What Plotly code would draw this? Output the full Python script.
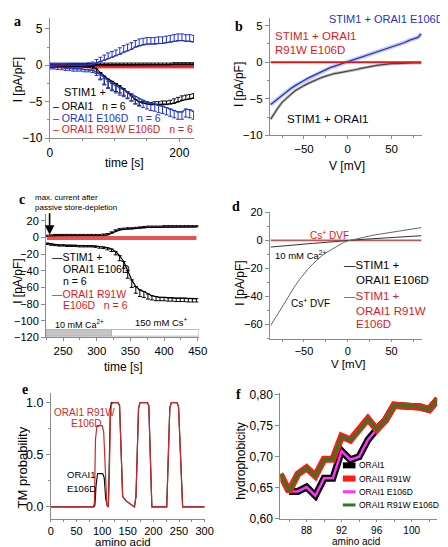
import plotly.graph_objects as go

W, H = 448, 547
FONT = "Liberation Sans"
SERIF = "Liberation Serif"
AX = "#8c8c8c"
BLACK, BLUE, RED = "#000000", "#2233cc", "#e01818"

# ---------------- panel a : current vs time ----------------
a_time = [0, 6, 12, 18, 24, 30, 36, 42, 48, 54, 60, 66, 72, 78, 84, 90, 96, 102, 108, 114,
          120, 126, 132, 138, 144, 150, 156, 162, 168, 174, 180, 186, 192, 198, 204, 210, 216, 222]
a_orai1_in = [-0.1, -0.1, -0.1, -0.05, -0.05, 0, 0, 0, 0, -0.05, -0.1, -0.2, -0.5, -1.0, -1.5, -1.9, -2.2, -2.5, -2.8, -3.2,
              -3.7, -4.2, -4.7, -5.0, -5.2, -5.3, -5.4, -5.4, -5.4, -5.4, -5.4, -5.3, -5.2, -5.0, -4.8, -4.7, -4.6, -4.5]
a_orai1_in_err_dn = [0.2, 0.2, 0.2, 0.2, 0.2, 0.2, 0.2, 0.2, 0.2, 0.2, 0.2, 0.3, 0.6, 0.9, 1.1, 1.2, 1.2, 1.1, 1.0, 0.9,
                     0.8, 0.7, 0.6, 0.5, 0, 0, 0, 0, 0, 0, 0, 0, 0, 0, 0, 0, 0, 0]
a_orai1_in_err_up = [0, 0, 0, 0, 0, 0, 0, 0, 0, 0, 0, 0, 0, 0, 0, 0, 0, 0, 0, 0,
                     0, 0, 0, 0, 0.2, 0.3, 0.3, 0.4, 0.4, 0.5, 0.5, 0.5, 0.6, 0.6, 0.6, 0.6, 0.6, 0.6]
a_orai1_out = [0, 0, 0, 0, 0, 0.05, 0.05, 0.05, 0.05, 0.05, 0.05, 0.05, 0.1, 0.1, 0.1, 0.1, 0.1, 0.1, 0.1, 0.1,
               0.1, 0.1, 0.1, 0.1, 0.1, 0.1, 0.1, 0.1, 0.1, 0.1, 0.1, 0.1, 0.15, 0.15, 0.15, 0.15, 0.15, 0.15]
a_orai1_out_err = [0.2, 0.2, 0.2, 0.2, 0.2, 0.2, 0.2, 0.2, 0.2, 0.2, 0.2, 0.2, 0.2, 0.2, 0.2, 0.2, 0.2, 0.2, 0.2, 0.2,
                   0.2, 0.2, 0.2, 0.2, 0.2, 0.2, 0.2, 0.2, 0.2, 0.2, 0.2, 0.2, 0.2, 0.2, 0.2, 0.2, 0.2, 0.2]
a_e106d_in = [-0.2, -0.2, -0.3, -0.3, -0.4, -0.4, -0.5, -0.5, -0.5, -0.6, -0.6, -0.7, -0.9, -1.3, -1.8, -2.2, -2.5, -2.8, -3.1, -3.3,
              -3.6, -3.9, -4.3, -4.6, -4.8, -5.0, -5.2, -5.3, -5.5, -5.6, -5.8, -6.0, -6.2, -6.4, -6.4, -6.0, -6.1, -6.3]
a_e106d_in_err = [0.3, 0.3, 0.3, 0.3, 0.3, 0.3, 0.3, 0.3, 0.3, 0.3, 0.3, 0.3, 0.5, 0.7, 0.9, 1.0, 1.0, 1.0, 1.0, 1.0,
                  1.0, 1.0, 1.0, 1.0, 1.0, 1.0, 1.0, 1.0, 1.0, 1.0, 1.0, 1.0, 1.0, 1.0, 1.0, 1.1, 1.1, 1.1]
a_e106d_out = [0, 0, 0, 0, 0, 0, 0, 0, 0, 0, 0.05, 0.15, 0.3, 0.5, 0.7, 0.9, 1.1, 1.3, 1.5, 1.8,
               2.0, 2.2, 2.5, 2.7, 2.8, 2.9, 2.9, 2.9, 3.0, 3.0, 3.1, 3.2, 3.3, 3.4, 3.4, 3.3, 3.3, 3.2]
a_e106d_out_err = [0.3, 0.3, 0.3, 0.3, 0.3, 0.3, 0.3, 0.3, 0.3, 0.3, 0.3, 0.3, 0.5, 0.6, 0.7, 0.8, 0.8, 0.8, 0.9, 0.9,
                   0.9, 0.9, 0.9, 0.9, 0.9, 0.9, 0.9, 0.9, 0.9, 0.9, 0.9, 0.9, 0.9, 0.9, 0.9, 0.9, 0.9, 0.9]
a_r91w_out = [-0.05, -0.05, -0.05, -0.05, -0.05, -0.05, -0.05, -0.05, -0.05, -0.05, -0.05, -0.05, -0.05, -0.05, -0.05, -0.05, -0.05, -0.05, -0.05, -0.05,
              -0.05, -0.05, -0.05, -0.05, -0.05, -0.05, -0.05, -0.05, -0.05, -0.05, -0.05, -0.05, -0.05, -0.05, -0.05, -0.05, -0.05, -0.05]
a_r91w_in = [-0.2, -0.2, -0.2, -0.2, -0.2, -0.2, -0.2, -0.2, -0.2, -0.2, -0.2, -0.2, -0.2, -0.2, -0.2, -0.2, -0.2, -0.2, -0.2, -0.2,
             -0.2, -0.2, -0.2, -0.2, -0.2, -0.2, -0.2, -0.2, -0.2, -0.2, -0.2, -0.2, -0.2, -0.2, -0.2, -0.2, -0.2, -0.2]
a_r91w_err = [0.15, 0.15, 0.15, 0.15, 0.15, 0.15, 0.15, 0.15, 0.15, 0.15, 0.15, 0.15, 0.15, 0.15, 0.15, 0.15, 0.15, 0.15, 0.15, 0.15,
              0.15, 0.15, 0.15, 0.15, 0.15, 0.15, 0.15, 0.15, 0.15, 0.15, 0.15, 0.15, 0.15, 0.15, 0.15, 0.15, 0.15, 0.15]

# ---------------- panel b : I/V ----------------
b_volt = [-88, -85, -80, -75, -70, -65, -60, -55, -50, -45, -40, -35, -30, -25, -20, -15, -10, -5, 0, 5,
          10, 15, 20, 25, 30, 35, 40, 45, 50, 55, 60, 65, 70, 75, 80, 84]
b_e106d = [-5.8, -5.5, -5.0, -4.5, -4.0, -3.6, -3.2, -2.9, -2.5, -2.15, -1.85, -1.55, -1.25, -1.0, -0.75, -0.55, -0.35, -0.15, 0.0, 0.2,
           0.4, 0.6, 0.8, 1.0, 1.2, 1.4, 1.6, 1.8, 2.0, 2.2, 2.45, 2.7, 3.0, 3.2, 3.4, 3.9]
b_orai1 = [-7.8, -7.2, -6.3, -5.5, -4.9, -4.4, -3.9, -3.5, -3.2, -2.9, -2.6, -2.35, -2.1, -1.9, -1.7, -1.55, -1.45, -1.35, -1.3, -1.15,
           -1.0, -0.85, -0.7, -0.6, -0.5, -0.4, -0.3, -0.25, -0.2, -0.2, -0.15, -0.15, -0.1, -0.1, -0.1, -0.1]
b_r91w_volt = [-88, 84]
b_r91w = [0.0, 0.0]

# ---------------- panel c : current vs time (Ca then Cs) ----------------
c_time = [226, 232, 238, 244, 250, 256, 262, 268, 274, 280, 286, 292, 298, 304, 310, 316, 322, 328, 334, 340,
          346, 352, 358, 364, 370, 376, 382, 388, 394, 400, 406, 412, 418, 424, 430, 436, 442, 448]
c_e106d_in = [-7, -8, -8.5, -9, -9, -9.5, -9.5, -9.5, -10, -10, -10, -10, -10.5, -11, -11.5, -12.5, -14, -17, -22, -29,
              -40, -51, -59, -63, -65, -68, -70, -71, -72, -72, -72.5, -72.5, -73, -73, -73, -73.5, -73.5, -73.5]
c_e106d_in_err = [1.5, 1.5, 1.5, 1.5, 1.5, 1.5, 1.5, 1.5, 1.5, 1.5, 1.5, 1.5, 1.5, 2, 2, 2.5, 3, 4, 6, 8,
                  9, 9, 8, 8, 7, 6, 5, 5, 4, 4, 4, 4, 4, 4, 4, 4, 4, 4]
c_e106d_out = [1, 1.5, 2, 2, 2, 2, 2, 2, 2, 2, 2, 2, 2, 2, 2.5, 3, 5, 7.5, 9, 9.5,
               10, 10, 10.5, 11, 11.5, 12, 12, 12, 12, 12.5, 12.5, 12.5, 12.5, 12.5, 12.5, 12.5, 12.5, 12.5]
c_e106d_out_err = [1.5, 1.5, 1.5, 1.5, 1.5, 1.5, 1.5, 1.5, 1.5, 1.5, 1.5, 1.5, 1.5, 1.5, 1.5, 1.5, 1.5, 1.5, 1.5, 1.5,
                   1.5, 1.5, 1.5, 1.5, 1.5, 1.5, 1.5, 1.5, 1.5, 1.5, 1.5, 1.5, 1.5, 1.5, 1.5, 1.5, 1.5, 1.5]
c_r91w_out = [0.5, 0.5, 0.5, 0.5, 0.5, 0.5, 0.5, 0.5, 0.5, 0.5, 0.5, 0.5, 0.5, 0.5, 0.5, 0.5, 0.5, 0.5, 0.5, 0.5,
              0.5, 0.5, 0.5, 0.5, 0.5, 0.5, 0.5, 0.5, 0.5, 0.5, 0.5, 0.5, 0.5, 0.5, 0.5, 0.5, 0.5, 0.5]
c_r91w_in = [-2, -2, -2, -2, -2, -2, -2, -2, -2, -2, -2, -2, -2, -2, -2, -2, -2, -2, -2, -2,
             -2, -2, -2, -2, -2, -2, -2, -2, -2, -2, -2, -2, -2, -2, -2, -2, -2, -2]
c_solution_bounds = [224.7, 322, 451.6]   # 10 mM Ca2+ | 150 mM Cs+
c_bar_y = [-118.5, -110.5]

# ---------------- panel d : I/V Ca vs Cs DVF ----------------
d_volt = b_volt
d_cs_dvf = [-61, -58, -52, -47, -43, -37.5, -32.5, -28, -24, -20.3, -17, -14, -11.3, -9, -7, -5, -3.2, -1.6, -0.4, 0.4,
            1.1, 1.7, 2.4, 3.1, 3.8, 4.3, 4.8, 5.2, 5.6, 6.1, 6.6, 7.1, 7.6, 8.1, 8.6, 9.1]
d_ca = [-4.8, -4.6, -4.3, -4.05, -3.8, -3.5, -3.25, -3.0, -2.7, -2.45, -2.2, -1.9, -1.65, -1.4, -1.1, -0.85, -0.6, -0.35, -0.1, 0.15,
        0.4, 0.6, 0.8, 1.0, 1.2, 1.4, 1.6, 1.8, 2.0, 2.2, 2.4, 2.6, 2.8, 3.0, 3.15, 3.3]
d_r91w_volt = [-88, 84]
d_r91w = [0.0, 0.0]

# ---------------- panel e : TM probability ----------------
e_aa_e106d = [0, 84, 86, 88, 91, 101, 104, 107, 110, 112, 114, 116, 118, 121, 131, 134, 137, 140, 146, 154,
              163, 166, 168, 171, 174, 188, 191, 194, 197, 226, 229, 232, 235, 246, 249, 253, 257, 300]
e_e106d = [0, 0, 0.02, 0.2, 0.32, 0.32, 0.28, 0.08, 0.01, 0, 0.45, 0.95, 1.0, 1.0, 1.0, 0.97, 0.6, 0.1, 0.06, 0.03,
           0, 0.1, 0.5, 0.95, 1.0, 1.0, 0.97, 0.5, 0, 0, 0.5, 0.95, 1.0, 1.0, 0.96, 0.5, 0, 0]
e_aa_r91w = [0, 83, 85, 87, 90, 100, 103, 106, 109, 112, 114, 116, 118, 121, 131, 134, 137, 140, 146, 154,
             163, 166, 168, 171, 174, 188, 191, 194, 197, 226, 229, 232, 235, 246, 249, 253, 257, 300]
e_r91w = [0, 0, 0.05, 0.65, 0.78, 0.78, 0.72, 0.35, 0.03, 0, 0.3, 0.85, 0.98, 1.0, 1.0, 0.97, 0.6, 0.1, 0.06, 0.03,
          0, 0.1, 0.5, 0.95, 1.0, 1.0, 0.97, 0.5, 0, 0, 0.5, 0.95, 1.0, 1.0, 0.96, 0.5, 0, 0]

# ---------------- panel f : hydrophobicity ----------------
f_aa_a = [86, 87, 88, 89, 90, 91, 92, 93, 94, 95, 96, 97, 98, 99, 100, 101, 102, 103]
f_orai1 = [0.644, 0.644, 0.651, 0.637, 0.665, 0.665, 0.709, 0.695, 0.700, 0.727, 0.744, 0.759, 0.783, 0.783, 0.781, 0.780, 0.776, 0.793]
f_e106d = [0.644, 0.644, 0.651, 0.637, 0.665, 0.665, 0.709, 0.695, 0.700, 0.727, 0.744, 0.759, 0.783, 0.783, 0.781, 0.780, 0.776, 0.793]
f_aa_b = [85, 86, 87, 88, 89, 90, 91, 92, 93, 94, 95, 96, 97, 98, 99, 100, 101, 102, 103]
f_r91w = [0.672, 0.644, 0.672, 0.682, 0.669, 0.696, 0.696, 0.733, 0.727, 0.742, 0.761, 0.744, 0.759, 0.783, 0.783, 0.781, 0.780, 0.776, 0.793]
f_r91w_e106d = [0.672, 0.644, 0.672, 0.682, 0.669, 0.696, 0.696, 0.733, 0.727, 0.742, 0.761, 0.744, 0.759, 0.783, 0.783, 0.781, 0.780, 0.776, 0.793]
f_names = ["ORAI1", "ORAI1 R91W", "ORAI1 E106D", "ORAI1 R91W E106D"]
f_colors = ["#000000", "#ff1a1a", "#ff33ff", "#2f7a1c"]
f_widths = [7, 7, 2.5, 3]
f_ytick = [0.60, 0.65, 0.70, 0.75, 0.80]
f_yticktext = ["0,60", "0,65", "0,70", "0,75", "0,80"]

fig = go.Figure()


def add_line(x, y, n, color, width=1.2, up=None, dn=None, opacity=1.0):
    tr = go.Scatter(x=x, y=y, mode="lines", line=dict(color=color, width=width),
                    xaxis="x" + ("" if n == 1 else str(n)), yaxis="y" + ("" if n == 1 else str(n)),
                    showlegend=False, hoverinfo="skip", opacity=opacity)
    if up is not None or dn is not None:
        tr.error_y = dict(type="data", symmetric=False,
                          array=up if up is not None else [0] * len(y),
                          arrayminus=dn if dn is not None else [0] * len(y),
                          color=color, thickness=1, width=2)
    fig.add_trace(tr)


# panel a
add_line(a_time, a_r91w_out, 1, RED, 1.2, a_r91w_err, a_r91w_err)
add_line(a_time, a_r91w_in, 1, RED, 1.2, a_r91w_err, a_r91w_err)
add_line(a_time, a_orai1_out, 1, BLACK, 1.2, a_orai1_out_err, None)
add_line(a_time, a_orai1_in, 1, BLACK, 1.2, a_orai1_in_err_up, a_orai1_in_err_dn)
add_line(a_time, a_e106d_out, 1, BLUE, 1.2, a_e106d_out_err, None)
add_line(a_time, a_e106d_in, 1, BLUE, 1.2, None, a_e106d_in_err)

# panel b
add_line(b_volt, b_orai1, 2, "rgba(0,0,0,0.25)", 3)
add_line(b_volt, b_orai1, 2, "#444444", 1.2)
add_line(b_volt, b_e106d, 2, "rgba(80,100,230,0.35)", 4)
add_line(b_volt, b_e106d, 2, BLUE, 1.3)
add_line(b_r91w_volt, b_r91w, 2, RED, 2)

# panel c
add_line(c_time, c_e106d_out, 3, BLACK, 1.2, c_e106d_out_err, None)
add_line(c_time, c_e106d_in, 3, BLACK, 1.2, None, c_e106d_in_err)
add_line(c_time, c_r91w_out, 3, RED, 1.5)
add_line(c_time, c_r91w_in, 3, RED, 1.5)

# panel d
add_line(d_r91w_volt, d_r91w, 4, "#c05a55", 1.8)
add_line(d_volt, d_ca, 4, "#333333", 1)
add_line(d_volt, d_cs_dvf, 4, "#666666", 1)

# panel e
add_line(e_aa_e106d, e_e106d, 5, "#111111", 1.2)
add_line(e_aa_r91w, e_r91w, 5, "#cc2a2a", 1.2)

# panel f
for xs, ys, i in [(f_aa_a, f_orai1, 0), (f_aa_a, f_e106d, 2), (f_aa_b, f_r91w, 1), (f_aa_b, f_r91w_e106d, 3)]:
    add_line(xs, ys, 6, f_colors[i], f_widths[i])


def axis(px, rng, anchor, dtick=None, tick0=0, minor=None, size=11, vertical=False, ticklen=4, **kw):
    if vertical:
        dom = [1 - px[1] / H, 1 - px[0] / H]
    else:
        dom = [px[0] / W, px[1] / W]
    d = dict(domain=dom, range=rng, anchor=anchor, showline=True, linecolor=AX, linewidth=1,
             ticks="outside", ticklen=ticklen, tickwidth=1, tickcolor=AX,
             tickfont=dict(size=size, color="black", family=FONT),
             showgrid=False, zeroline=False, fixedrange=True)
    if dtick is not None:
        d["dtick"] = dtick
        d["tick0"] = tick0
    if minor is not None:
        d["minor"] = dict(dtick=minor, tick0=tick0, ticks="outside", ticklen=2, tickcolor=AX, showgrid=False)
    d.update(kw)
    return d


layout = dict(
    width=W, height=H, margin=dict(l=0, r=0, t=0, b=0),
    paper_bgcolor="white", plot_bgcolor="white", showlegend=False,
    font=dict(family=FONT, color="black"),
    xaxis=axis([40, 188], [0, 222.6], "y", 200, 0, 50, 12, ticklen=3),
    yaxis=axis([5, 128], [-10, 6.5], "x", 5, 0, 2.5, 12, True),
    xaxis2=axis([266, 422], [-88.9, 84.4], "y2", 50, 0, 25, 11.5, ticklen=3),
    yaxis2=axis([5, 125], [-10, 6.07], "x2", 5, 0, 2.5, 11.5, True),
    xaxis3=axis([36, 193], [224.7, 451.6], "y3", 50, 0, 25, 11.5, ticklen=3),
    yaxis3=axis([206, 331.7], [-120, 27.4], "x3", 20, 0, None, 11, True),
    xaxis4=axis([266, 422], [-88.9, 84.4], "y4", 50, 0, 25, 11, ticklen=2),
    yaxis4=axis([203, 333.3], [-70.6, 20.6], "x4", 20, 0, 10, 11, True),
    xaxis5=axis([41, 199], [0, 300], "y5", 50, 0, 25, 11, ticklen=2),
    yaxis5=axis([388.3, 517.3], [-0.115, 1.094], "x5", 0.5, 0, 0.25, 12.5, True, tickformat=".1f"),
    xaxis6=axis([276.7, 437.8], [85, 102.9], "y6", 4, 88, 2, 10, ticklen=2),
    yaxis6=axis([388.5, 517], [0.60, 0.8027], "x6", None, 0, None, 12, True,
                tickmode="array", tickvals=f_ytick, ticktext=f_yticktext),
)


def T(x, y, text, size=11, color="black", xanchor="center", angle=0, family=FONT):
    return dict(x=x / W, y=1 - y / H, xref="paper", yref="paper", text=text, showarrow=False,
                font=dict(size=size, color=color, family=family), xanchor=xanchor, yanchor="middle",
                textangle=angle)


ann = []
# panel letters
for lx, ly, lt in [(7, 9, "a"), (234, 14, "b"), (11, 191, "c"), (231, 198, "d"), (14, 385, "e"), (234, 390, "f")]:
    ann.append(T(lx, ly, "<b>%s</b>" % lt, 14, "black", "center", 0, SERIF))
# axis titles
ann += [
    T(7, 68, "I [pA/pF]", 12, angle=-90), T(117, 153, "time [s]", 12),
    T(235, 73, "I [pA/pF]", 12, angle=-90), T(345, 156, "V [mV]", 12),
    T(7, 274, "I [pA/pF]", 12, angle=-90), T(116, 362, "time [s]", 12),
    T(235, 276, "I [pA/pF]", 12, angle=-90), T(347, 358.5, "V [mV]", 11.5),
    T(12, 465, "TM probability", 13, angle=-90), T(115, 540.5, "amino acid", 11.5),
    T(236, 458, "hydrophobicity", 12, angle=-90), T(355, 540.5, "amino acid", 10),
]
# panel a legend
ann += [
    T(52, 81, "STIM1 +", 11, BLACK, "left"),
    T(41, 95.5, "– ORAI1   n = 6", 10.5, BLACK, "left"),
    T(41, 107, "– ORAI1 E106D   n = 6", 10.5, BLUE, "left"),
    T(41, 119, "– ORAI1 R91W E106D   n = 6", 10.5, RED, "left"),
]
# panel b labels
ann += [
    T(325, 6, "STIM1 + ORAI1 E106D", 11, BLUE, "left"),
    T(269, 24, "STIM1 + ORAI1", 11.5, RED, "left"),
    T(269, 38, "R91W E106D", 11.5, RED, "left"),
    T(282, 108, "STIM1 + ORAI1", 11.5, BLACK, "left"),
]
# panel c labels
ann += [
    T(23, 189, "max. current after", 8, BLACK, "left"),
    T(23, 198.5, "passive store-depletion", 8, BLACK, "left"),
    T(40, 249.5, "—STIM1 +", 10.5, BLACK, "left"),
    T(51, 262, "ORAI1 E106D", 10.5, BLACK, "left"),
    T(51, 273.5, "n = 6", 10.5, BLACK, "left"),
    T(40, 287, "—ORAI1 R91W", 10.5, RED, "left"),
    T(51, 299, "E106D   n = 6", 10.5, RED, "left"),
    T(43, 318, "10 mM Ca<sup>2+</sup>", 9, BLACK, "left"),
    T(125, 316, "150 mM Cs<sup>+</sup>", 9.5, BLACK, "left"),
]
# panel d labels
ann += [
    T(327, 227, "Cs<sup>+</sup> DVF", 10, RED),
    T(269, 247, "10 mM Ca<sup>2+</sup>", 9.5, BLACK, "left"),
    T(286, 297, "Cs<sup>+</sup> DVF", 10, BLACK, "left"),
    T(340, 258, "—STIM1 +", 11.5, BLACK, "left"),
    T(352, 273, "ORAI1 E106D", 11.5, BLACK, "left"),
    T(340, 289, "—STIM1 +", 11.5, RED, "left"),
    T(352, 305, "ORAI1 R91W", 11.5, RED, "left"),
    T(352, 318, "E106D", 11.5, RED, "left"),
]
# panel e labels
ann += [
    T(42, 408, "ORAI1 R91W", 10, "#cc2a2a", "left"),
    T(60, 420, "E106D", 10, "#cc2a2a", "left"),
    T(55, 472, "ORAI1", 9.5, BLACK, "left"),
    T(55, 486, "E106D", 9.5, BLACK, "left"),
]
# panel f legend text
f_leg_y = [462.5, 476, 489.5, 503]
for name, yy in zip(f_names, f_leg_y):
    ann.append(T(356, yy, name, 8.5, BLACK, "left"))
# arrow in c
ann.append(dict(x=c_time[0] + 4, y=3, xref="x3", yref="y3", ax=0, ay=-23, text="", showarrow=True,
                arrowhead=2, arrowsize=1.2, arrowwidth=1.6, arrowcolor="black"))

shapes = [
    dict(type="rect", xref="x3", yref="y3", x0=c_solution_bounds[0], x1=c_solution_bounds[1],
         y0=c_bar_y[0], y1=c_bar_y[1], fillcolor="#c4c4c4", line=dict(color="#aaaaaa", width=0.8)),
    dict(type="rect", xref="x3", yref="y3", x0=c_solution_bounds[1], x1=c_solution_bounds[2],
         y0=c_bar_y[0], y1=c_bar_y[1], fillcolor="white", line=dict(color="#aaaaaa", width=0.8)),
]
for i, yy in enumerate(f_leg_y):
    shapes.append(dict(type="line", xref="paper", yref="paper", x0=341 / W, x1=354 / W,
                       y0=1 - yy / H, y1=1 - yy / H,
                       line=dict(color=f_colors[i], width=6 if i < 2 else 3)))

layout["annotations"] = ann
layout["shapes"] = shapes
fig.update_layout(**layout)
fig.write_html("out.html")
